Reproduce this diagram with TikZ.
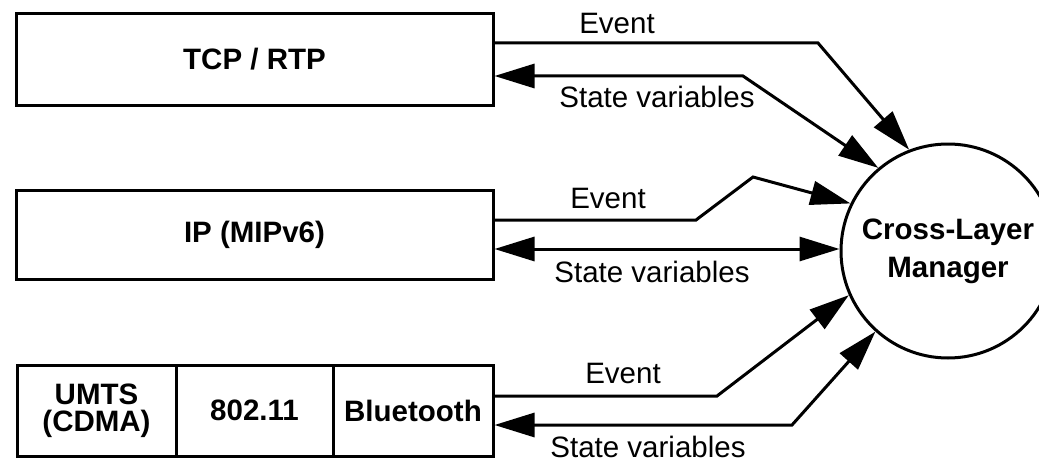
\documentclass[tikz,border=0pt]{standalone}
\usepackage{fontspec}
\setmainfont{Liberation Sans}
\usetikzlibrary{arrows.meta}
\begin{document}
\begin{tikzpicture}[x=1pt,y=-1pt,
  lbl/.style={font=\fontsize{29.5}{34}\selectfont, inner sep=0pt},
  layer/.style={draw, line width=3pt, align=center, inner sep=0pt,
    minimum height=91pt, font=\fontsize{29.5}{27}\selectfont\bfseries},
  mgr/.style={draw, circle, line width=3pt, minimum size=214pt, inner sep=0pt,
    align=center, font=\fontsize{29.5}{38}\selectfont\bfseries},
  tip/.tip={Triangle[length=40pt,width=24pt]},
  link/.style={line width=3pt, -tip},
  dlink/.style={line width=3pt, tip-tip}]
\useasboundingbox (0,0) rectangle (1039,460);

% protocol layers
\node[layer, minimum width=477pt] (tcp) at (254.5,59.5) {TCP / RTP};
\node[layer, minimum width=477pt, minimum height=89pt] (ip) at (254.5,234.5) {IP (MIPv6)};
\node[layer, minimum width=159pt] (umts) at (96.5,410.5) {UMTS\\(CDMA)};
\node[layer, minimum width=157pt] (wlan) at (254.5,410.5) {802.11};
\node[layer, minimum width=160pt] (bt) at (413,410.5) {Bluetooth};

% cross-layer manager
\node[mgr] (clm) at (948,251) {Cross-Layer\\Manager};

% transport layer links
\draw[link] (tcp.east |- 0,43) -- (818,43) -- (clm.111);
\draw[dlink] (clm.130.5) -- (743,76) -- (tcp.east |- 0,76);
\node[lbl] (ev1) at (617,23) {Event};
\node[lbl] (sv1) at (657,97) {State variables};

% network layer links
\draw[link] (ip.east |- 0,220) -- (696,220) -- (753,177) -- (clm.154.6);
\draw[dlink] (ip.east |- 0,249) -- (clm.west |- 0,249);
\node[lbl] (ev2) at (608,198) {Event};
\node[lbl] (sv2) at (652,272) {State variables};

% link layer links
\draw[link] (bt.east |- 0,396) -- (717,396) -- (clm.204.2);
\draw[dlink] (clm.228) -- (792,425) -- (bt.east |- 0,425);
\node[lbl] (ev3) at (623,373) {Event};
\node[lbl] (sv3) at (648,447) {State variables};
\end{tikzpicture}
\end{document}
